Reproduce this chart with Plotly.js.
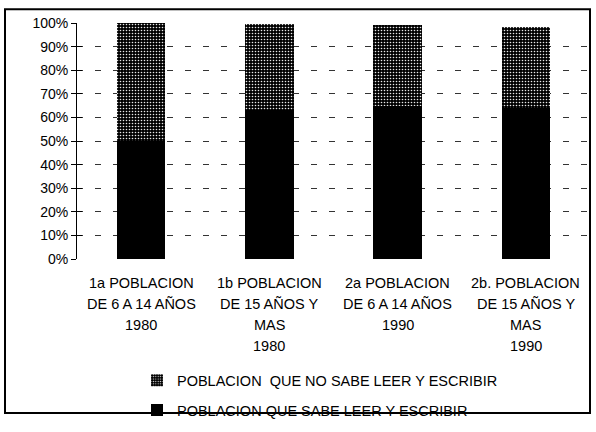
<!DOCTYPE html>
<html>
<head>
<meta charset="utf-8">
<script src="https://cdn.plot.ly/plotly-3.0.1.min.js"></script>
<style>
  html, body { margin: 0; padding: 0; background: #fff; }
  #chart { width: 596px; height: 432px; }
</style>
</head>
<body>
<div id="chart"></div>
<script>
// ---- data ----
const categories = ["1a", "1b", "2a", "2b"];
const categoryLines = [
  ["1a POBLACION", "DE 6 A 14 AÑOS", "1980"],
  ["1b POBLACION", "DE 15 AÑOS Y", "MAS", "1980"],
  ["2a POBLACION", "DE 6 A 14 AÑOS", "1990"],
  ["2b. POBLACION", "DE 15 AÑOS Y", "MAS", "1990"]
];
const sabeLeer = [50, 63, 65, 64];          // % que sabe leer y escribir
const noSabeLeer = [50, 36.5, 34, 34.5];    // % que no sabe leer y escribir
const seriesNames = ["POBLACION QUE SABE LEER Y ESCRIBIR", "POBLACION  QUE NO SABE LEER Y ESCRIBIR"];
const yTickVals = [0, 10, 20, 30, 40, 50, 60, 70, 80, 90, 100];
const yTickText = ["0%", "10%", "20%", "30%", "40%", "50%", "60%", "70%", "80%", "90%", "100%"];

const FONT = "Liberation Sans, Arial, sans-serif";

const traces = [
  {
    type: "bar", x: categories, y: sabeLeer, name: seriesNames[0],
    legendgroup: "a", legendrank: 2,
    marker: { color: "#000", line: { width: 0 } },
    width: 0.38, hoverinfo: "skip"
  },
  {
    type: "bar", x: categories, y: noSabeLeer, name: seriesNames[1],
    legendgroup: "b", legendrank: 1,
    marker: {
      color: "#000", line: { width: 0 },
      pattern: { shape: ".", fgcolor: "#e8e8e8", bgcolor: "#000", size: 3, solidity: 0.22 }
    },
    width: 0.38, hoverinfo: "skip"
  },
  // invisible trace to draw inner ticks (cross marks) on the value axis
  { type: "scatter", x: categories, y: sabeLeer, yaxis: "y2", mode: "none", showlegend: false, hoverinfo: "skip" }
];

const L = 77, R = 6, T = 23, B = 167;
const W = 596, H = 432;
const pw = W - L - R, ph = H - T - B;
const px = v => (v - L) / pw;
const py = v => (H - B - v) / ph;

const annotations = [];
categoryLines.forEach((lines, ci) => {
  lines.forEach((txt, li) => {
    annotations.push({
      x: categories[ci], xref: "x", y: 0, yref: "paper",
      text: txt, showarrow: false, xanchor: "center", yanchor: "middle",
      yshift: -(24 + li * 21),
      font: { family: FONT, size: 14.5, color: "#000" }
    });
  });
});

const layout = {
  width: W, height: H,
  margin: { l: L, r: R, t: T, b: B, pad: 0 },
  paper_bgcolor: "#fff", plot_bgcolor: "#fff",
  barmode: "stack",
  bargap: 0.62,
  showlegend: true,
  legend: {
    x: px(137), xanchor: "left", y: py(373), yanchor: "top",
    traceorder: "grouped", tracegroupgap: 8,
    font: { family: FONT, size: 14.5, color: "#000" },
    bgcolor: "rgba(0,0,0,0)"
  },
  xaxis: {
    type: "category", showticklabels: false, ticks: "outside", ticklen: 0,
    showline: false, showgrid: false, zeroline: false, fixedrange: true
  },
  yaxis: {
    range: [0, 100], tickvals: yTickVals, ticktext: yTickText,
    ticks: "outside", ticklen: 5, tickcolor: "#000", tickwidth: 1,
    showline: true, linecolor: "#000", linewidth: 1,
    showgrid: true, gridcolor: "#333", gridwidth: 1, griddash: "6px,12px",
    zeroline: false,
    tickfont: { family: FONT, size: 14, color: "#000" },
    fixedrange: true
  },
  yaxis2: {
    overlaying: "y", side: "left", range: [0, 100], tickvals: yTickVals,
    showticklabels: false, ticks: "inside", ticklen: 5, tickcolor: "#000",
    showgrid: false, zeroline: false, showline: false, fixedrange: true
  },
  shapes: [
    { type: "rect", xref: "paper", yref: "paper",
      x0: px(5), x1: px(590), y0: py(423), y1: py(9),
      line: { color: "#000", width: 2 }, fillcolor: "rgba(0,0,0,0)", layer: "above" }
  ],
  annotations: annotations
};

Plotly.newPlot("chart", traces, layout, { displayModeBar: false, staticPlot: true });
</script>
</body>
</html>
